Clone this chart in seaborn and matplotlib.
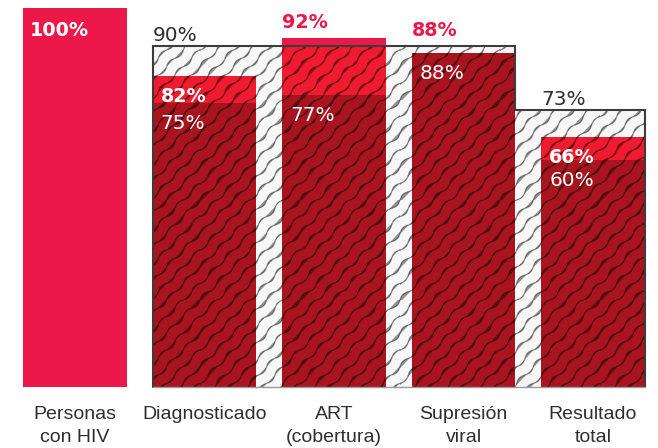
import numpy as np
import pandas as pd
import matplotlib
matplotlib.use("Agg")
import matplotlib.pyplot as plt
import matplotlib.hatch as mhatch
from matplotlib.path import Path
import seaborn as sns

# --- data -------------------------------------------------------------------
categorias = ["Personas\ncon HIV", "Diagnosticado", "ART\n(cobertura)",
              "Supresión\nviral", "Resultado\ntotal"]
meta = [np.nan, 90, 90, 90, 73]          # objetivo (zona rayada)
alcanzado = [100, 82, 92, 88, 66]        # valor alcanzado
base = [np.nan, 75, 77, 88, 60]          # valor de referencia

# --- style ------------------------------------------------------------------
ROSA = "#EB1849"
ROJO = "#EE1C2E"
GRANATE = "#A9151F"
FONDO = "#F7F7F7"
GRIS_TEXTO = "#2E2E2E"
ANCHO = 0.8

# wavy diagonal hatch used for the target region
LINEAS_POR_CELDA = 6
ONDAS_POR_CELDA = 3
AMPLITUD = 0.026
PUNTOS = 160


class OndaDiagonal(mhatch.HatchPatternBase):
    def __init__(self, hatch, density):
        self.num_lines = LINEAS_POR_CELDA if "/" in hatch else 0
        self.num_vertices = (2 * self.num_lines + 3) * PUNTOS if self.num_lines else 0

    def set_vertices_and_codes(self, vertices, codes):
        n = self.num_lines
        p = np.linspace(-0.1, 2.1, PUNTOS)
        onda = AMPLITUD * np.sin(2 * np.pi * ONDAS_POR_CELDA * p)
        for j, k in enumerate(range(-n - 1, n + 2)):
            q = k / n + onda
            s = slice(j * PUNTOS, (j + 1) * PUNTOS)
            vertices[s, 0] = (p - q) / 2
            vertices[s, 1] = (p + q) / 2
            codes[s] = Path.LINETO
            codes[j * PUNTOS] = Path.MOVETO


mhatch._hatch_types = [OndaDiagonal if t is mhatch.NorthEastHatch else t
                       for t in mhatch._hatch_types]

sns.set_style("white")
plt.rcParams["font.family"] = ["DejaVu Sans"]
plt.rcParams["hatch.linewidth"] = 0.9

df = pd.DataFrame({"categoria": categorias, "meta": meta,
                   "alcanzado": alcanzado, "base": base})
df["dentro"] = np.minimum(df["alcanzado"], df["meta"])

fig = plt.figure(figsize=(6.58, 4.48), dpi=100)
ax = fig.add_axes([0, 1 - 387 / 448, 1, 387 / 448])

# --- target region: stepped block behind the bars ----------------------------
con_meta = df.dropna(subset=["meta"])
pos = con_meta.index.to_numpy(float)
t = con_meta["meta"].to_numpy(float)
bordes = [pos[0] - ANCHO / 2]
for a, b, ta, tb in zip(pos[:-1], pos[1:], t[:-1], t[1:]):
    if ta > tb:
        bordes.append(a + ANCHO / 2)
    elif ta < tb:
        bordes.append(b - ANCHO / 2)
    else:
        bordes.append((a + b) / 2)
bordes.append(pos[-1] + ANCHO / 2)
bordes = np.array(bordes)

ax.bar(bordes[:-1], t, width=np.diff(bordes), align="edge",
       color=FONDO, linewidth=0, zorder=1)


def barras(col, color, z):
    d = df.dropna(subset=[col])
    sns.barplot(data=d, x="categoria", y=col, order=categorias, color=color,
                width=ANCHO, errorbar=None, linewidth=0, saturation=1,
                zorder=z, ax=ax)


barras("alcanzado", ROSA, 2)
barras("dentro", ROJO, 3)
barras("base", GRANATE, 4)

# hatch over everything inside the target region
ax.bar(bordes[:-1], t, width=np.diff(bordes), align="edge",
       facecolor="none", edgecolor=(0, 0, 0, 0.42), linewidth=0,
       hatch="/", zorder=5)

# outline of the target region
xs = np.repeat(bordes, 2)
ys = np.concatenate([[0], np.repeat(t, 2), [0]])
ax.plot(xs, ys, color="#3C3C3C", lw=1.5, zorder=6,
        solid_joinstyle="miter", clip_on=False)
ax.plot([bordes[0], bordes[-1]], [0, 0], color="#9A9A9A", lw=1,
        zorder=6, clip_on=False)

# --- value labels -------------------------------------------------------------
PX = 0.72  # points per pixel at 100 dpi


def etiqueta(x, y, texto, color, negrita, dx, dy, va):
    ax.annotate(texto, xy=(x, y), xytext=(dx * PX, dy * PX),
                textcoords="offset points", ha="left", va=va, color=color,
                fontweight="bold" if negrita else "normal",
                fontsize=13.8 if negrita else 14.5,
                zorder=7, annotation_clip=False)


for i, fila in df.iterrows():
    izq = i - ANCHO / 2
    a, m, b = fila["alcanzado"], fila["meta"], fila["base"]
    if np.isnan(m):
        etiqueta(izq, a, f"{a:.0f}%", "white", True, 7, -13, "top")
        continue
    etiqueta(izq, b, f"{b:.0f}%", "white", False, 8, -11, "top")
    if b < a < m:
        etiqueta(izq, a, f"{a:.0f}%", "white", True, 8, -11, "top")
        etiqueta(izq, m, f"{m:.0f}%", GRIS_TEXTO, False, 0, 5, "baseline")
    else:
        etiqueta(izq, max(a, m), f"{a:.0f}%", ROSA, True, 0, 10, "baseline")

# --- axes -----------------------------------------------------------------------
ax.set_xlim(-75 / 129.5, (658 - 75) / 129.5)
ax.set_ylim(0, 387 / 3.79)
ax.set_xlabel("")
ax.set_ylabel("")
ax.set_yticks([])
sns.despine(ax=ax, left=True, bottom=True)
ax.tick_params(axis="x", length=0, pad=13.5, labelsize=14, labelcolor=GRIS_TEXTO)
for lbl in ax.get_xticklabels():
    lbl.set_fontfamily(["Liberation Sans Narrow", "Liberation Sans", "DejaVu Sans"])
    lbl.set_linespacing(1.45)

fig.savefig("out.png", dpi=100)
